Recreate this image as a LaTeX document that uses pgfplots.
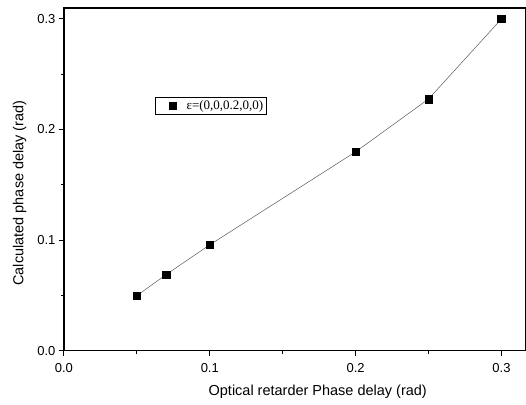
\documentclass[border=0pt]{standalone}
\usepackage{fontspec}
\setmainfont{Liberation Sans}
\newfontfamily\seriffont{Liberation Serif}
\usepackage{pgfplots}
\pgfplotsset{compat=1.18}

\begin{document}
\begin{tikzpicture}
\useasboundingbox (-64pt,-54pt) rectangle (462.6pt,351pt);
\begin{axis}[
  scale only axis,
  width=462pt, height=343pt,
  xmin=0, xmax=0.3164,
  ymin=0, ymax=0.3099,
  xtick={0,0.1,0.2,0.3},
  ytick={0,0.1,0.2,0.3},
  minor tick num=1,
  tick align=outside,
  major tick length=5pt,
  minor tick length=3pt,
  xtick pos=bottom, ytick pos=left,
  axis line style={line width=1.3pt},
  tick style={line width=1pt, black},
  /pgf/number format/.cd, fixed, fixed zerofill, precision=1, assume math mode=true,
  /pgfplots/.cd,
  ticklabel style={font=\fontsize{13}{15}\selectfont},
  xticklabel style={yshift=-4pt},
  xlabel={Optical retarder Phase delay (rad)},
  ylabel={Calculated phase delay (rad)},
  label style={font=\fontsize{14.5}{16}\selectfont},
  xlabel style={at={(ticklabel cs:0.55)}, yshift=-6pt},
  ylabel style={at={(ticklabel cs:0.46)}, yshift=4pt},
  legend style={at={(0.197,0.741)}, anchor=north west,
    font=\fontsize{13}{14}\selectfont\seriffont,
    draw=black, line width=0.5pt, inner sep=1.5pt,
    legend cell align=left},
  legend image code/.code={\path[draw=none] (0,0) -- (28pt,0);
    \path[#1, draw=none] plot coordinates {(16pt,0pt)};},
]
\addplot[gray!70!black, line width=0.5pt, mark=square*, mark size=3.8pt,
  mark options={fill=black, draw=black}] coordinates {
  (0.05,0.0497) (0.07,0.0687) (0.1,0.0957) (0.2,0.1798) (0.25,0.2276) (0.3,0.300)
};
\addlegendentry{ε=(0,0,0.2,0,0)}
\end{axis}
\end{tikzpicture}
\end{document}
